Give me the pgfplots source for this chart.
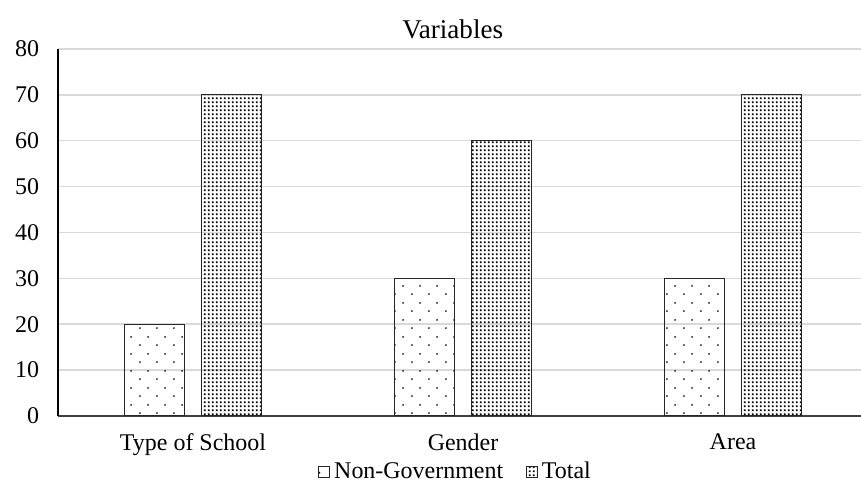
\documentclass[border=0pt]{standalone}
\usepackage{fontspec}
\setmainfont{Liberation Serif}
\usepackage{pgfplots}
\pgfplotsset{compat=1.18}
\usetikzlibrary{patterns}
\pgfdeclarepatternformonly{sparsedots}{\pgfpointorigin}{\pgfqpoint{8.2pt}{8.2pt}}{\pgfqpoint{8.2pt}{8.2pt}}{%
  \pgfpathcircle{\pgfqpoint{2pt}{2pt}}{0.5pt}%
  \pgfpathcircle{\pgfqpoint{6.1pt}{6.1pt}}{0.5pt}%
  \pgfusepath{fill}%
}
\pgfdeclarepatternformonly{densedots}{\pgfpointorigin}{\pgfqpoint{1.95pt}{1.95pt}}{\pgfqpoint{1.95pt}{1.95pt}}{%
  \pgfpathrectangle{\pgfqpoint{0.45pt}{0.45pt}}{\pgfqpoint{1.05pt}{1.05pt}}%
  \pgfusepath{fill}%
}
\definecolor{gridgray}{HTML}{D9D9D9}
\begin{document}
\begin{tikzpicture}
\path[use as bounding box] (-27.84pt,-33.12pt) rectangle (385.44pt,199.68pt);
\begin{axis}[
  at={(0,0)}, anchor=south west,
  scale only axis,
  width=385.44pt, height=176.16pt,
  xmin=-0.5, xmax=2.474,
  ymin=0, ymax=80,
  ytick distance=10,
  xtick={0,1,2},
  xticklabels={Type of School, Gender, Area},
  major tick length=0pt,
  axis x line*=bottom,
  axis y line*=left,
  x axis line style={black!75, line width=0.7pt, -},
  y axis line style={black, line width=0.6pt, -},
  ymajorgrids,
  major grid style={gridgray, line width=0.72pt},
  /pgf/number format/assume math mode=true,
  tick label style={font=\fontsize{11.5}{13}\selectfont},
  yticklabel style={xshift=-5.5pt},
  xticklabel style={yshift=-5pt},
  title={Variables},
  title style={font=\fontsize{13}{15}\selectfont, at={(0.4915,1.02)}, anchor=center, yshift=0pt},
  ybar,
  bar width=28.8pt,
  legend columns=2,
  legend style={draw=none, fill=none, font=\fontsize{11.5}{13}\selectfont,
    at={(0.4965,-0.153)}, anchor=center,
    /tikz/every even column/.append style={column sep=9pt}},
  legend image code/.code={\draw[#1, line width=0.4pt] (0pt,-2.3pt) rectangle (5.2pt,2.9pt);},
]
\addplot[bar shift=-18.5pt, draw=black!85, line width=0.5pt, pattern=sparsedots, pattern color=black]
  coordinates {(0,20) (1,30) (2,30)};
\addplot[bar shift=18.5pt, draw=black!85, line width=0.5pt, pattern=densedots, pattern color=black]
  coordinates {(0,70) (1,60) (2,70)};
\legend{Non-Government, Total}
\end{axis}
\end{tikzpicture}
\end{document}
